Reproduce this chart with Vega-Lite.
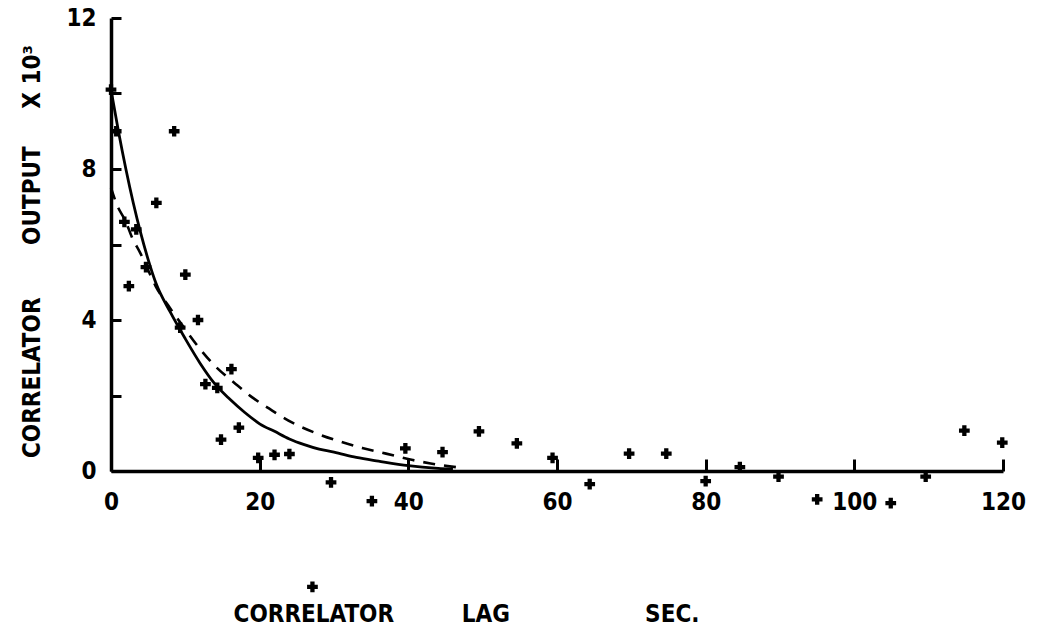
{
  "$schema": "https://vega.github.io/schema/vega-lite/v6.json",
  "autosize": {"type": "none"},
  "padding": {"left": 111, "top": 18, "right": 35, "bottom": 158},
  "width": 892,
  "height": 453,
  "background": "white",
  "config": {
    "view": {"stroke": null},
    "axis": {
      "domainColor": "black", "domainWidth": 3.5, "tickColor": "black", "tickWidth": 3,
      "labelColor": "black", "titleColor": "black", "grid": false,
      "labelFont": "DejaVu Sans Condensed, DejaVu Sans, sans-serif",
      "titleFont": "DejaVu Sans Condensed, DejaVu Sans, sans-serif",
      "labelFontWeight": "bold", "titleFontWeight": "bold",
      "labelFontSize": 24, "titleFontSize": 24
    }
  },
  "datasets": {
    "points": [
      {"lag": 0, "out": 10.1}, {"lag": 0.7, "out": 9.0}, {"lag": 8.5, "out": 9.0}, {"lag": 6.1, "out": 7.1},
      {"lag": 1.8, "out": 6.6}, {"lag": 3.4, "out": 6.4}, {"lag": 2.4, "out": 4.9}, {"lag": 4.7, "out": 5.4},
      {"lag": 10, "out": 5.2}, {"lag": 11.7, "out": 4.0}, {"lag": 9.3, "out": 3.8}, {"lag": 16.2, "out": 2.7},
      {"lag": 12.7, "out": 2.3}, {"lag": 14.3, "out": 2.2}, {"lag": 17.2, "out": 1.15}, {"lag": 14.8, "out": 0.83},
      {"lag": 19.8, "out": 0.35}, {"lag": 22, "out": 0.43}, {"lag": 24, "out": 0.45}, {"lag": 29.6, "out": -0.3},
      {"lag": 35.1, "out": -0.8}, {"lag": 39.6, "out": 0.6}, {"lag": 44.6, "out": 0.5}, {"lag": 49.5, "out": 1.05},
      {"lag": 54.6, "out": 0.73}, {"lag": 59.4, "out": 0.35}, {"lag": 64.4, "out": -0.35}, {"lag": 69.7, "out": 0.46},
      {"lag": 74.7, "out": 0.46}, {"lag": 80, "out": -0.27}, {"lag": 84.6, "out": 0.1}, {"lag": 89.8, "out": -0.15},
      {"lag": 95, "out": -0.75}, {"lag": 104.9, "out": -0.85}, {"lag": 109.6, "out": -0.15}, {"lag": 114.8, "out": 1.07},
      {"lag": 119.9, "out": 0.75}, {"lag": 27.1, "out": -3.07}
    ],
    "solid": [
      {"lag": 0, "out": 10.1}, {"lag": 1, "out": 9.0}, {"lag": 2, "out": 8.0}, {"lag": 3, "out": 7.1},
      {"lag": 4, "out": 6.3}, {"lag": 5, "out": 5.6}, {"lag": 6, "out": 5.0}, {"lag": 8, "out": 4.2},
      {"lag": 10, "out": 3.5}, {"lag": 12, "out": 2.85}, {"lag": 14, "out": 2.3}, {"lag": 16, "out": 1.9},
      {"lag": 18, "out": 1.55}, {"lag": 20, "out": 1.25}, {"lag": 22, "out": 1.05}, {"lag": 24, "out": 0.85},
      {"lag": 26, "out": 0.7}, {"lag": 28, "out": 0.58}, {"lag": 30, "out": 0.5}, {"lag": 33, "out": 0.36},
      {"lag": 36, "out": 0.26}, {"lag": 40, "out": 0.14}, {"lag": 44, "out": 0.07}, {"lag": 46, "out": 0.05}
    ],
    "dashed": [
      {"lag": 0, "out": 7.5}, {"lag": 0.8, "out": 7.05}, {"lag": 2, "out": 6.6}, {"lag": 2.8, "out": 6.2},
      {"lag": 4, "out": 5.75}, {"lag": 4.7, "out": 5.45}, {"lag": 6, "out": 4.9}, {"lag": 8, "out": 4.3},
      {"lag": 10, "out": 3.75}, {"lag": 11.5, "out": 3.35}, {"lag": 13.9, "out": 2.8}, {"lag": 16.8, "out": 2.3},
      {"lag": 19, "out": 1.95}, {"lag": 21.3, "out": 1.65}, {"lag": 24.4, "out": 1.28}, {"lag": 27.6, "out": 1.0},
      {"lag": 30.5, "out": 0.8}, {"lag": 33.8, "out": 0.61}, {"lag": 37, "out": 0.46}, {"lag": 40.6, "out": 0.29},
      {"lag": 43, "out": 0.2}, {"lag": 45.3, "out": 0.13}, {"lag": 46.5, "out": 0.1}
    ]
  },
  "encoding": {
    "x": {
      "field": "lag", "type": "quantitative",
      "scale": {"domain": [0, 120], "nice": false, "zero": false},
      "axis": {
        "values": [0, 20, 40, 60, 80, 100, 120],
        "tickSize": -12, "labelPadding": 31, "labelBaseline": "top", "labelFlush": false,
        "title": "CORRELATOR\u00a0\u00a0\u00a0\u00a0\u00a0\u00a0\u00a0\u00a0\u00a0LAG\u00a0\u00a0\u00a0\u00a0\u00a0\u00a0\u00a0\u00a0\u00a0\u00a0\u00a0\u00a0\u00a0\u00a0\u00a0\u00a0\u00a0\u00a0SEC.",
        "titleX": 355, "titleY": 150, "titleAlign": "center", "titleBaseline": "alphabetic"
      }
    },
    "y": {
      "field": "out", "type": "quantitative",
      "scale": {"domain": [0, 12], "nice": false, "zero": false},
      "axis": {
        "values": [0, 2, 4, 6, 8, 10, 12],
        "labelExpr": "datum.value % 4 === 0 ? datum.label : ''",
        "tickSize": -10, "labelPadding": 25, "labelFlush": false,
        "title": "CORRELATOR\u00a0\u00a0\u00a0\u00a0\u00a0\u00a0\u00a0OUTPUT\u00a0\u00a0\u00a0\u00a0\u00a0X 10\u00b3",
        "titleX": -72, "titleY": 233, "titleAngle": -90, "titleAlign": "center", "titleBaseline": "alphabetic"
      }
    }
  },
  "layer": [
    {
      "data": {"name": "solid"},
      "mark": {"type": "line", "color": "black", "strokeWidth": 2.8, "interpolate": "monotone"}
    },
    {
      "data": {"name": "dashed"},
      "mark": {"type": "line", "color": "black", "strokeWidth": 2.6, "strokeDash": [12, 9], "interpolate": "monotone"}
    },
    {
      "data": {"name": "points"},
      "mark": {"type": "point", "shape": "cross", "filled": true, "color": "black", "size": 115, "opacity": 1}
    }
  ]
}
